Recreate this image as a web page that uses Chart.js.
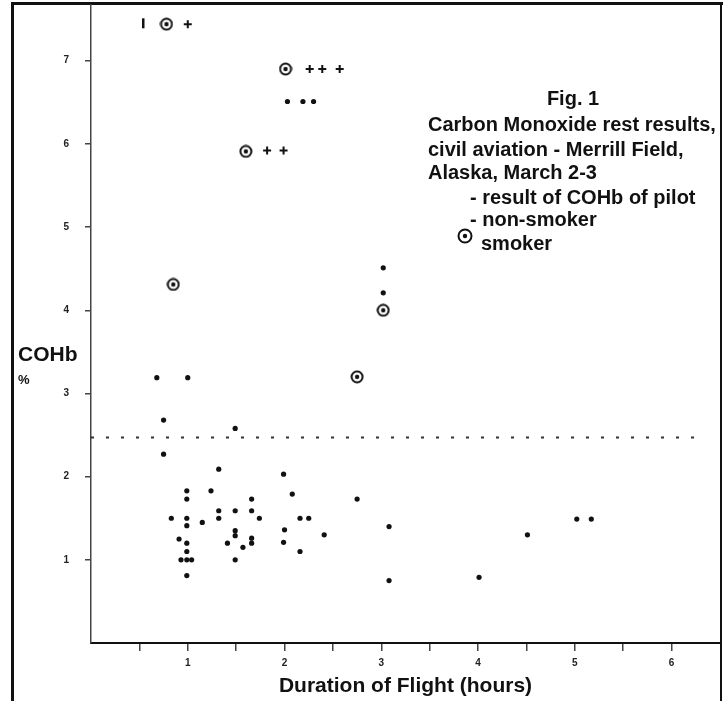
<!DOCTYPE html>
<html>
<head>
<meta charset="utf-8">
<title>Carbon Monoxide test results</title>
<script src="https://cdn.jsdelivr.net/npm/chart.js@4.4.1/dist/chart.umd.min.js"></script>
<style>
  html, body { margin: 0; padding: 0; background: #fff; }
  #wrap { width: 723px; height: 701px; }
</style>
</head>
<body>
<div id="wrap"><canvas id="chart" width="723" height="701"></canvas></div>
<script>
// values (x = hours of flight, y = COHb %)
const nonSmokerHours = [3.02, 3.02, 0.68, 1.00, 0.75, 1.49, 0.75, 1.32, 1.99, 0.99,
    1.24, 2.08, 2.75, 0.99, 1.66, 1.32, 1.49, 1.66, 0.83, 0.99,
    1.32, 1.74, 2.16, 2.25, 1.15, 0.99, 1.49, 1.49, 2.00, 2.41,
    0.91, 1.66, 1.66, 0.99, 1.41, 1.99, 1.57, 0.99, 2.16, 0.93,
    0.99, 1.04, 1.49, 0.99, 3.08, 3.08, 4.01, 4.51, 5.02, 5.17,
    2.03, 2.19, 2.30];
const nonSmokerCohb = [4.51, 4.21, 3.19, 3.19, 2.68, 2.58, 2.27, 2.09, 2.03, 1.83,
    1.83, 1.79, 1.73, 1.73, 1.73, 1.59, 1.59, 1.59, 1.50, 1.50,
    1.50, 1.50, 1.50, 1.50, 1.45, 1.41, 1.35, 1.29, 1.36, 1.30,
    1.25, 1.26, 1.20, 1.20, 1.20, 1.21, 1.15, 1.10, 1.10, 1.00,
    1.00, 1.00, 1.00, 0.81, 1.40, 0.75, 0.79, 1.30, 1.49, 1.49,
    6.51, 6.51, 6.51];

const smokerHours = [0.78, 2.01, 1.60, 0.85, 3.02, 2.75];
const smokerCohb = [7.44, 6.90, 5.91, 4.31, 4.00, 3.20];

// the "+" marks printed next to some smokers
const plusHours = [1.00, 2.26, 2.39, 2.57, 1.82, 1.99];
const plusCohb = [7.44, 6.90, 6.90, 6.90, 5.92, 5.92];

// short upright stroke left of the top smoker
const strokeHours = [0.54];
const strokeCohb = [7.45];

// dotted reference line
const refHours = [0, 6.26];
const refCohb = [2.47, 2.47];

const xTickValues = [0.5, 1, 1.5, 2, 2.5, 3, 3.5, 4, 4.5, 5, 5.5, 6];
const xTickLabels = ['', '1', '', '2', '', '3', '', '4', '', '5', '', '6'];
const yTickValues = [1, 2, 3, 4, 5, 6, 7];
const yTickLabels = ['1', '2', '3', '4', '5', '6', '7'];

const ink = '#111';

function toPoints(xs, ys) {
    return xs.map((x, i) => ({ x: x, y: ys[i] }));
}

// circled-dot symbol used for smokers
function smokerSymbol(size) {
    const c = document.createElement('canvas');
    c.width = size;
    c.height = size;
    const g = c.getContext('2d');
    const r = size / 2;
    g.strokeStyle = ink;
    g.lineWidth = 2;
    g.beginPath();
    g.arc(r, r, r - 1.5, 0, Math.PI * 2);
    g.stroke();
    g.fillStyle = ink;
    g.beginPath();
    g.arc(r, r, 2.2, 0, Math.PI * 2);
    g.fill();
    return c;
}

const paperPlugin = {
    id: 'paper',
    beforeDraw(chart) {
        const ctx = chart.ctx;
        ctx.save();
        ctx.fillStyle = '#fff';
        ctx.fillRect(0, 0, chart.width, chart.height);
        // scan frame
        ctx.strokeStyle = ink;
        ctx.lineWidth = 3;
        ctx.beginPath();
        ctx.moveTo(12.5, chart.height);
        ctx.lineTo(12.5, 3.5);
        ctx.lineTo(chart.width, 3.5);
        ctx.stroke();
        ctx.lineWidth = 2;
        ctx.beginPath();
        ctx.moveTo(721, 3);
        ctx.lineTo(721, chart.height);
        ctx.stroke();
        ctx.restore();
    },
    afterDraw(chart) {
        const ctx = chart.ctx;
        ctx.save();
        ctx.fillStyle = ink;
        ctx.textBaseline = 'middle';

        // y axis caption
        ctx.font = 'bold 21px "Liberation Sans", Arial, sans-serif';
        ctx.textAlign = 'left';
        ctx.fillText('COHb', 18, 355);
        ctx.font = 'bold 13px "Liberation Sans", Arial, sans-serif';
        ctx.fillText('%', 18, 380);

        // figure caption
        ctx.font = 'bold 20px "Liberation Sans", Arial, sans-serif';
        ctx.textAlign = 'center';
        ctx.fillText('Fig. 1', 573, 99);
        ctx.textAlign = 'left';
        ctx.fillText('Carbon Monoxide rest results,', 428, 125);
        ctx.fillText('civil aviation - Merrill Field,', 428, 150);
        ctx.fillText('Alaska, March 2-3', 428, 173);
        ctx.fillText('- result of COHb of pilot', 470, 198);
        ctx.fillText('- non-smoker', 470, 220);
        ctx.fillText('smoker', 481, 244);
        ctx.drawImage(smokerSymbol(16), 457, 228);
        ctx.restore();
    }
};

const chart = new Chart(document.getElementById('chart'), {
    type: 'scatter',
    data: {
        datasets: [
            {
                label: 'threshold',
                data: toPoints(refHours, refCohb),
                showLine: true,
                borderColor: '#333',
                borderWidth: 2,
                borderDash: [3, 12],
                pointRadius: 0
            },
            {
                label: 'non-smoker',
                data: toPoints(nonSmokerHours, nonSmokerCohb),
                pointStyle: 'circle',
                pointRadius: 2.6,
                pointBorderWidth: 0,
                pointBackgroundColor: ink
            },
            {
                label: 'smoker',
                data: toPoints(smokerHours, smokerCohb),
                pointStyle: smokerSymbol(14)
            },
            {
                label: 'plus',
                data: toPoints(plusHours, plusCohb),
                pointStyle: 'cross',
                pointRadius: 4,
                pointBorderWidth: 2,
                pointBorderColor: ink
            },
            {
                label: 'stroke',
                data: toPoints(strokeHours, strokeCohb),
                pointStyle: 'line',
                rotation: 90,
                pointRadius: 5,
                pointBorderWidth: 2.5,
                pointBorderColor: ink
            }
        ]
    },
    options: {
        responsive: false,
        animation: false,
        layout: { autoPadding: false, padding: { left: 0, top: 5, right: 3, bottom: 0 } },
        plugins: {
            legend: { display: false },
            tooltip: { enabled: false }
        },
        scales: {
            x: {
                type: 'linear',
                min: 0,
                max: 6.5,
                afterBuildTicks: scale => {
                    scale.ticks = xTickValues.map(v => ({ value: v }));
                },
                afterFit: scale => {
                    scale.height = 58;
                    scale.paddingLeft = 0;
                    scale.paddingRight = 0;
                },
                ticks: {
                    autoSkip: false,
                    maxRotation: 0,
                    padding: 6,
                    color: '#222',
                    font: { family: 'Liberation Sans', size: 10, weight: 'bold' },
                    callback: (value, index) => xTickLabels[index]
                },
                grid: {
                    drawOnChartArea: false,
                    drawTicks: true,
                    tickLength: 8,
                    color: '#444',
                    lineWidth: 1.5
                },
                border: { display: true, color: ink, width: 2 },
                title: {
                    display: true,
                    text: 'Duration of Flight (hours)',
                    color: ink,
                    font: { family: 'Liberation Sans', size: 21, weight: 'bold' },
                    padding: { top: 0, bottom: 2 }
                }
            },
            y: {
                type: 'linear',
                min: 0,
                max: 7.67,
                afterBuildTicks: scale => {
                    scale.ticks = yTickValues.map(v => ({ value: v }));
                },
                afterFit: scale => {
                    // labels sit well inside the range, so no extra room needed above/below
                    scale.width = 91;
                    scale.paddingTop = 0;
                    scale.paddingBottom = 0;
                },
                ticks: {
                    padding: 16,
                    color: '#222',
                    font: { family: 'Liberation Sans', size: 10, weight: 'bold' },
                    callback: (value, index) => yTickLabels[index]
                },
                grid: {
                    drawOnChartArea: false,
                    drawTicks: true,
                    tickLength: 6,
                    color: '#444',
                    lineWidth: 1.5
                },
                border: { display: true, color: '#444', width: 1.5 }
            }
        }
    },
    plugins: [paperPlugin]
});
</script>
</body>
</html>
